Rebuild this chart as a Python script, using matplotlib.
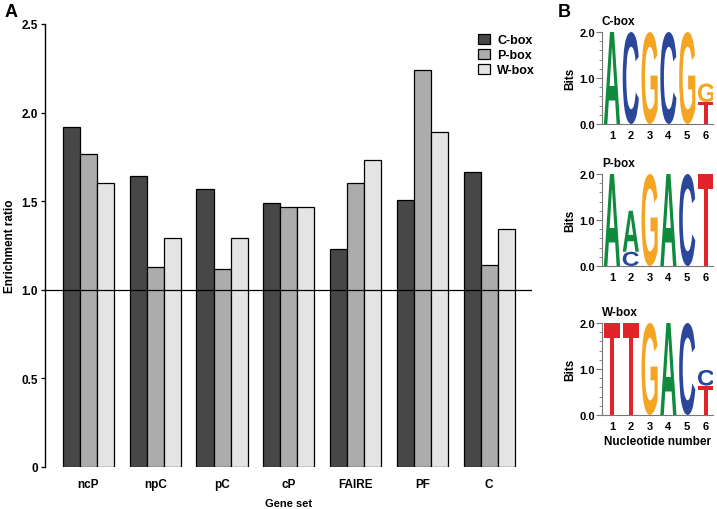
import matplotlib
matplotlib.use('Agg')
import matplotlib.pyplot as plt
import numpy as np
from matplotlib.textpath import TextPath
from matplotlib.patches import PathPatch
from matplotlib.font_manager import FontProperties
from matplotlib.transforms import Affine2D

plt.rcParams['font.family'] = ['Liberation Sans', 'DejaVu Sans']
plt.rcParams['font.weight'] = 'bold'
plt.rcParams['axes.labelweight'] = 'bold'

# Panel A data
gene_sets = ['ncP', 'npC', 'pC', 'cP', 'FAIRE', 'PF', 'C']
c_box = [1.92, 1.64, 1.57, 1.49, 1.23, 1.505, 1.665]
p_box = [1.765, 1.13, 1.115, 1.47, 1.60, 2.24, 1.14]
w_box = [1.60, 1.29, 1.29, 1.47, 1.73, 1.89, 1.345]
series_names = ['C-box', 'P-box', 'W-box']
y_ticks = [0, 0.5, 1.0, 1.5, 2.0, 2.5]
y_tick_labels = ['0', '0.5', '1.0', '1.5', '2.0', '2.5']

# Panel B data: letters per position, bottom to top, with heights in bits
logo_titles = ['C-box', 'P-box', 'W-box']
logo_cbox = [[('A', 2.0)], [('C', 2.0)], [('G', 2.0)], [('C', 2.0)], [('G', 2.0)],
             [('T', 0.48), ('G', 0.40)]]
logo_pbox = [[('A', 2.0)], [('C', 0.31), ('A', 0.89)], [('G', 2.0)], [('A', 2.0)],
             [('C', 2.0)], [('T', 2.0)]]
logo_wbox = [[('T', 2.0)], [('T', 2.0)], [('G', 2.0)], [('A', 2.0)], [('C', 2.0)],
             [('T', 0.64), ('C', 0.34)]]

bar_colors = ['#474747', '#acacac', '#e4e4e4']
letter_colors = {'A': '#108a3c', 'C': '#2b479c', 'G': '#f4a522', 'T': '#e2232a'}

fig = plt.figure(figsize=(7.17, 5.10), dpi=100)

# ---- Panel A ----
ax = fig.add_axes([45 / 717, 1 - 468 / 510, 487 / 717, 443 / 510])
x = np.arange(len(gene_sets))
w = 0.255
for i, vals in enumerate([c_box, p_box, w_box]):
    ax.bar(x + (i - 1) * w, vals, width=w, color=bar_colors[i], edgecolor='black',
           linewidth=0.9, label=series_names[i])
ax.axhline(1.0, color='black', linewidth=0.9)
ax.set_xlim(-0.65, 6.64)
ax.set_ylim(0, 2.5)
ax.set_yticks(y_ticks)
ax.set_yticklabels(y_tick_labels, fontsize=8.5)
ax.set_xticks(x)
ax.set_xticklabels(gene_sets, fontsize=8.5)
ax.tick_params(axis='x', length=0, pad=8)
ax.tick_params(axis='y', length=3, width=0.9, pad=2)
for s in ['top', 'right', 'bottom']:
    ax.spines[s].set_visible(False)
ax.spines['left'].set_linewidth(1.0)
ax.set_xlabel('Gene set', fontsize=8, labelpad=6)
ax.set_ylabel('Enrichment ratio', fontsize=8.5, labelpad=4)
ax.legend(loc='upper left', bbox_to_anchor=(0.89, 0.978), frameon=False,
          fontsize=9, handlelength=0.9, handleheight=0.9, handletextpad=0.6,
          labelspacing=0.2, borderpad=0, borderaxespad=0)

fig.text(5 / 717, 1 - 4 / 510, 'A', fontsize=13, fontweight='bold', va='top')
fig.text(558 / 717, 1 - 4 / 510, 'B', fontsize=13, fontweight='bold', va='top')

# ---- Panel B ----
fp = FontProperties(family='Liberation Sans', weight='bold')


def draw_letter(ax, letter, xc, y0, width, height):
    tp = TextPath((0, 0), letter, size=1, prop=fp)
    bb = tp.get_extents()
    t = Affine2D().translate(-bb.x0, -bb.y0).scale(width / bb.width, height / bb.height)
    t = t.translate(xc - width / 2, y0)
    ax.add_patch(PathPatch(t.transform_path(tp), fc=letter_colors[letter], lw=0))


logo_tops = [33, 175, 324]
for k, logo in enumerate([logo_cbox, logo_pbox, logo_wbox]):
    top = logo_tops[k]
    lax = fig.add_axes([602 / 717, 1 - (top + 92) / 510, 111 / 717, 92 / 510])
    for pos, stack in enumerate(logo, start=1):
        y0 = 0
        for letter, h in stack:
            draw_letter(lax, letter, pos, y0, 0.86, h)
            y0 += h
    lax.set_xlim(0.47, 6.37)
    lax.set_ylim(0, 2.0)
    lax.set_xticks(range(1, 7))
    lax.set_xticklabels([str(i) for i in range(1, 7)], fontsize=8)
    lax.set_yticks([0, 1, 2])
    lax.set_yticklabels(['0.0', '1.0', '2.0'], fontsize=8)
    lax.set_yticks(np.arange(0, 2.01, 0.2), minor=True)
    lax.tick_params(axis='y', which='major', length=4, color='#777777', pad=1)
    lax.tick_params(axis='y', which='minor', length=2, color='#777777')
    lax.tick_params(axis='x', length=0, pad=4)
    for s in ['top', 'right']:
        lax.spines[s].set_visible(False)
    for s in ['left', 'bottom']:
        lax.spines[s].set_color('#777777')
        lax.spines[s].set_linewidth(0.8)
    lax.set_ylabel('Bits', fontsize=8.5, labelpad=2)
    lax.text(0.0, 1.05, logo_titles[k], transform=lax.transAxes, fontsize=8.5,
             fontweight='bold', ha='left', va='bottom')
    if k == 2:
        lax.set_xlabel('Nucleotide number', fontsize=8.5, labelpad=3)

fig.savefig('out.png', dpi=100)
